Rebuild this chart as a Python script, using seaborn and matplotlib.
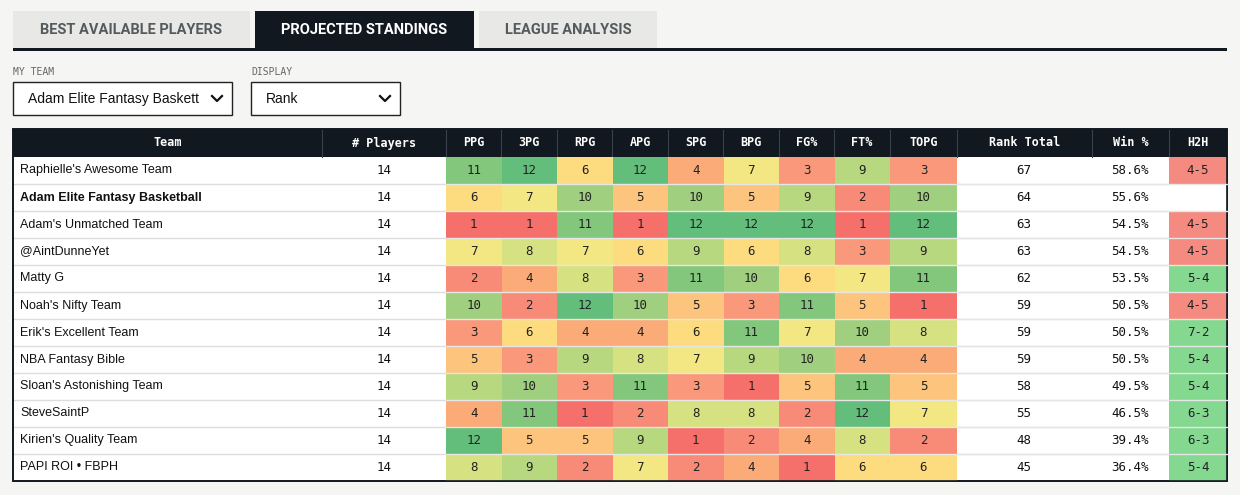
import numpy as np
import pandas as pd
import matplotlib
matplotlib.use("Agg")
import matplotlib.pyplot as plt
from matplotlib.colors import ListedColormap, BoundaryNorm
from matplotlib.patches import Rectangle
import seaborn as sns

teams = ["Raphielle's Awesome Team", "Adam Elite Fantasy Basketball", "Adam's Unmatched Team",
         "@AintDunneYet", "Matty G", "Noah's Nifty Team", "Erik's Excellent Team", "NBA Fantasy Bible",
         "Sloan's Astonishing Team", "SteveSaintP", "Kirien's Quality Team", "PAPI ROI • FBPH"]
players = [14] * 12
cats = ["PPG", "3PG", "RPG", "APG", "SPG", "BPG", "FG%", "FT%", "TOPG"]
ppg = [11, 6, 1, 7, 2, 10, 3, 5, 9, 4, 12, 8]
tpg = [12, 7, 1, 8, 4, 2, 6, 3, 10, 11, 5, 9]
rpg = [6, 10, 11, 7, 8, 12, 4, 9, 3, 1, 5, 2]
apg = [12, 5, 1, 6, 3, 10, 4, 8, 11, 2, 9, 7]
spg = [4, 10, 12, 9, 11, 5, 6, 7, 3, 8, 1, 2]
bpg = [7, 5, 12, 6, 10, 3, 11, 9, 1, 8, 2, 4]
fgp = [3, 9, 12, 8, 6, 11, 7, 10, 5, 2, 4, 1]
ftp = [9, 2, 1, 3, 7, 5, 10, 4, 11, 12, 8, 6]
topg = [3, 10, 12, 9, 11, 1, 8, 4, 5, 7, 2, 6]
rank_total = [67, 64, 63, 63, 62, 59, 59, 59, 58, 55, 48, 45]
win_pct = [58.6, 55.6, 54.5, 54.5, 53.5, 50.5, 50.5, 50.5, 49.5, 46.5, 39.4, 36.4]
h2h = ["4-5", "-", "4-5", "4-5", "5-4", "4-5", "7-2", "5-4", "5-4", "6-3", "6-3", "5-4"]

W, H = 1240, 495
fig = plt.figure(figsize=(W / 100, H / 100), dpi=100)
fig.patch.set_facecolor("#f5f5f3")
base = fig.add_axes([0, 0, 1, 1])
base.set_xlim(0, W); base.set_ylim(H, 0); base.axis("off")

def px_axes(x0, y0, x1, y1):
    return fig.add_axes([x0 / W, 1 - y1 / H, (x1 - x0) / W, (y1 - y0) / H])

tabfont = ["Roboto", "DejaVu Sans"]
mono = ["DejaVu Sans Mono"]
sans = ["Liberation Sans", "DejaVu Sans"]

# tabs
tabs = [("BEST AVAILABLE PLAYERS", 13, 250, False), ("PROJECTED STANDINGS", 255, 474, True),
        ("LEAGUE ANALYSIS", 479, 657, False)]
for label, x0, x1, active in tabs:
    base.add_patch(Rectangle((x0, 11), x1 - x0, 38, color="#111820" if active else "#e8e9e6", lw=0))
    base.text((x0 + x1) / 2, 30, label, ha="center", va="center", fontsize=10.5, fontweight="bold",
              color="white" if active else "#555a5e", family=tabfont)
base.add_patch(Rectangle((13, 48), 1214, 3, color="#111820", lw=0))

# dropdowns
for lab, x0, x1, val in [("MY TEAM", 13, 232, "Adam Elite Fantasy Baskett"), ("DISPLAY", 251, 400, "Rank")]:
    base.text(x0, 72, lab, ha="left", va="center", fontsize=7, color="#666", family=mono)
    base.add_patch(Rectangle((x0, 82), x1 - x0, 33, facecolor="white", edgecolor="#222", lw=1))
    base.text(x0 + 15, 99, val, ha="left", va="center", fontsize=10, color="#111", family=sans)
    base.plot([x1 - 20, x1 - 15, x1 - 10], [96, 101, 96], color="#111", lw=1.6)

# table
top, rh, hh = 157, 27, 28
nrow = len(teams)
base.add_patch(Rectangle((13, top - hh), 1214, hh + rh * nrow, facecolor="white", edgecolor="none"))
base.add_patch(Rectangle((13, top - hh), 1214, hh, color="#111820", lw=0))
bounds = [13, 322, 446, 501, 557, 612, 668, 723, 779, 834, 890, 957, 1092, 1169, 1227]
heads = ["Team", "# Players"] + cats + ["Rank Total", "Win %", "H2H"]
for i, hd in enumerate(heads):
    base.text((bounds[i] + bounds[i + 1]) / 2, top - hh / 2, hd, ha="center", va="center",
              fontsize=8.5, fontweight="bold", color="white", family=mono)
    if i > 0:
        base.plot([bounds[i]] * 2, [top - hh, top], color="#3a414a", lw=0.8)
for r in range(nrow):
    y = top + rh * r + rh / 2
    base.text(20, y, teams[r], ha="left", va="center", fontsize=9, color="#111",
              fontweight="bold" if r == 1 else "normal", family=sans)
    base.text(384, y, str(players[r]), ha="center", va="center", fontsize=9, color="#111", family=mono)
    base.text(1024, y, str(rank_total[r]), ha="center", va="center", fontsize=9, color="#111", family=mono)
    base.text(1130, y, f"{win_pct[r]:.1f}%", ha="center", va="center", fontsize=9, color="#111", family=mono)
    if r > 0:
        base.plot([13, 1227], [top + rh * r] * 2, color="#dddddd", lw=1, zorder=1)

colors = ["#f5706b", "#f78b78", "#f9987a", "#fbab77", "#fcc47c", "#fddb7f", "#f2e783",
          "#d6e282", "#b8d880", "#a0d07f", "#82c77c", "#63be7b"]
cmap = ListedColormap(colors)
norm = BoundaryNorm(np.arange(0.5, 13.5, 1), cmap.N)
df = pd.DataFrame({"PPG": ppg, "3PG": tpg, "RPG": rpg, "APG": apg, "SPG": spg, "BPG": bpg,
                   "FG%": fgp, "FT%": ftp, "TOPG": topg}, index=teams)
kw = dict(cmap=cmap, norm=norm, annot=True, fmt="d", cbar=False, linewidths=0,
          annot_kws=dict(fontsize=9, color="#222", family="DejaVu Sans Mono"))
ax1 = px_axes(446, top, 890, top + rh * nrow)
sns.heatmap(df[cats[:8]], ax=ax1, **kw)
ax2 = px_axes(890, top, 957, top + rh * nrow)
sns.heatmap(df[["TOPG"]], ax=ax2, **kw)

wins = [np.nan if s == "-" else float(s.split("-")[0]) for s in h2h]
hcm = ListedColormap(["#f48a80", "#84d890", "#84d890", "#84d890"])
hnorm = BoundaryNorm([3.5, 4.5, 5.5, 6.5, 7.5], 4)
ax3 = px_axes(1169, top, 1227, top + rh * nrow)
sns.heatmap(pd.DataFrame({"H2H": wins}), ax=ax3, cmap=hcm, norm=hnorm, cbar=False,
            annot=np.array(h2h).reshape(-1, 1), fmt="",
            annot_kws=dict(fontsize=9, color="#222", family="DejaVu Sans Mono"))
for a in (ax1, ax2, ax3):
    a.set_xticks([]); a.set_yticks([]); a.set_xlabel(""); a.set_ylabel("")
    a.set_facecolor("white")
for r in range(1, nrow):
    base.plot([13, 1227], [top + rh * r] * 2, color="white", lw=0)
base.add_patch(Rectangle((13, top - hh), 1214, hh + rh * nrow, fill=False, edgecolor="#111820", lw=1.2, zorder=5))
# overlay row lines across heatmaps
ov = fig.add_axes([0, 0, 1, 1], facecolor="none")
ov.set_xlim(0, W); ov.set_ylim(H, 0); ov.axis("off")
for r in range(1, nrow):
    ov.plot([446, 1227], [top + rh * r] * 2, color="#e6e6e6", lw=1)
ov.add_patch(Rectangle((13, top - hh), 1214, hh + rh * nrow, fill=False, edgecolor="#111820", lw=1.2))
fig.savefig("out.png", dpi=100, facecolor=fig.get_facecolor())
